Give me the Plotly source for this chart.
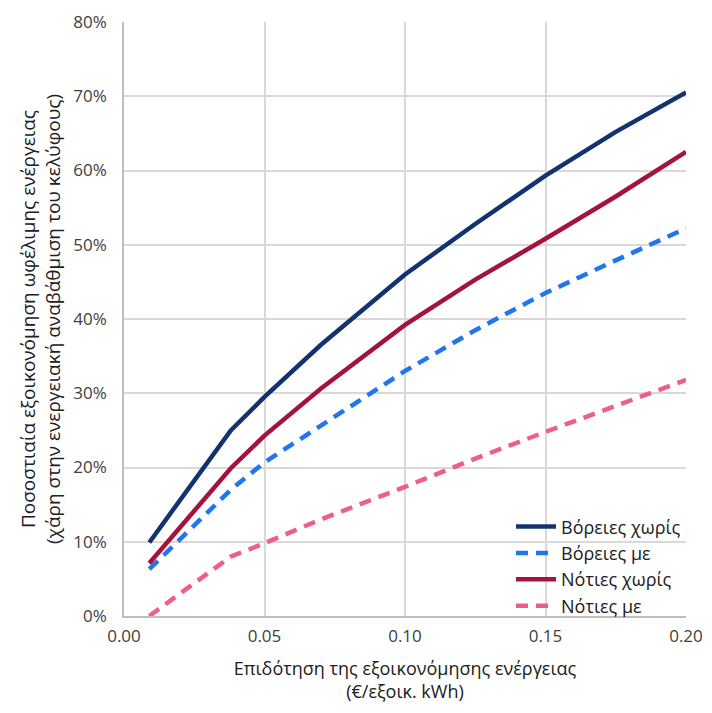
import plotly.graph_objects as go

subsidy = [0.009, 0.038, 0.05, 0.07, 0.10, 0.125, 0.15, 0.175, 0.20]
north_without = [9.9, 25.0, 29.5, 36.5, 46.0, 52.8, 59.3, 65.2, 70.5]
north_with = [6.3, 17.0, 20.7, 25.6, 33.0, 38.5, 43.5, 47.9, 52.2]
south_without = [7.1, 19.9, 24.3, 30.6, 39.2, 45.3, 50.8, 56.5, 62.5]
south_with = [0.0, 8.0, 9.8, 13.0, 17.4, 21.2, 24.8, 28.3, 31.8]

series_names = ["Βόρειες χωρίς", "Βόρειες με", "Νότιες χωρίς", "Νότιες με"]
series_values = [north_without, north_with, south_without, south_with]
colors = ["#12336E", "#2176F0", "#A4133C", "#EE5F87"]
dashes = ["solid", "12px,8px", "solid", "12px,8px"]

x_ticks = [0.00, 0.05, 0.10, 0.15, 0.20]
x_tick_labels = ["0.00", "0.05", "0.10", "0.15", "0.20"]
y_ticks = [0, 10, 20, 30, 40, 50, 60, 70, 80]
y_tick_labels = [f"{v}%" for v in y_ticks]

FONT = "Open Sans, Noto Sans, sans-serif"

fig = go.Figure()
for name, vals, c, d in zip(series_names, series_values, colors, dashes):
    fig.add_trace(go.Scatter(
        x=subsidy, y=vals, mode="lines", name=name,
        line=dict(color=c, width=4.5, dash=d),
    ))

fig.update_layout(
    width=696, height=697,
    margin=dict(l=116, r=18, t=14, b=89, autoexpand=False),
    paper_bgcolor="white", plot_bgcolor="white",
    font=dict(family=FONT, size=17, color="#404040"),
    legend=dict(
        x=1.0, y=-0.014, xanchor="right", yanchor="bottom",
        bgcolor="rgba(0,0,0,0)", font=dict(size=18, color="#202020"),
        tracegroupgap=0, itemwidth=40,
    ),
    xaxis=dict(
        range=[0, 0.2], tickvals=x_ticks, ticktext=x_tick_labels,
        showgrid=True, gridcolor="#D9D9D9", gridwidth=1.5,
        zeroline=False, showline=True, linecolor="#BFBFBF", linewidth=1.5,
        ticks="", ticklabelstandoff=4, automargin=False,
        title=dict(text="Επιδότηση της εξοικονόμησης ενέργειας<br>(€/εξοικ. kWh)",
                   font=dict(size=18, color="#202020"), standoff=16),
    ),
    yaxis=dict(
        range=[0, 80], tickvals=y_ticks, ticktext=y_tick_labels,
        showgrid=True, gridcolor="#D9D9D9", gridwidth=1.5,
        zeroline=False, showline=True, linecolor="#BFBFBF", linewidth=1.5,
        ticks="", ticklabelstandoff=12, automargin=False,
        title=dict(text="Ποσοστιαία εξοικονόμηση ωφέλιμης ενέργειας<br>(χάρη στην ενεργειακή αναβάθμιση του κελύφους)",
                   font=dict(size=19, color="#202020"), standoff=8),
    ),
)

fig.write_html("out.html", config={"displayModeBar": False})
